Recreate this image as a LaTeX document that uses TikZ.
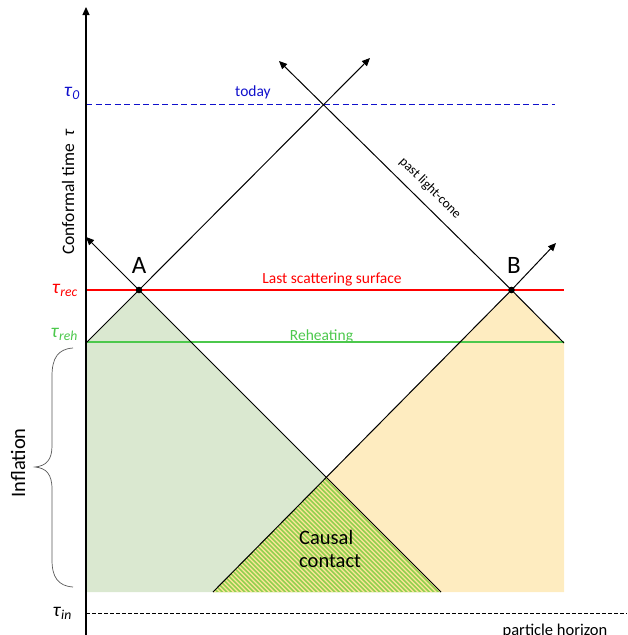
\documentclass[tikz,border=0pt]{standalone}
\usepackage{fontspec}
\setmainfont{Carlito}
\usetikzlibrary{arrows.meta}
\definecolor{regA}{HTML}{DAE8D0}
\definecolor{regB}{HTML}{FEECC0}
\definecolor{hatchG}{HTML}{92D050}
\definecolor{hatchY}{HTML}{FFE699}
\definecolor{rehgreen}{HTML}{4CC84C}
\definecolor{todayblue}{HTML}{1010CC}
\newcommand\tauLev[1]{\textit{τ}\textsubscript{\textit{#1}}}

\begin{document}
\begin{tikzpicture}[x=1pt,y=-1pt,every node/.style={inner sep=0pt},
  cone/.style={line width=1pt},
  tip/.style={-{Triangle[length=8pt,width=7pt]}},
  lbl/.style={font=\fontsize{15.5}{18}\selectfont},
  lev/.style={font=\fontsize{19.5}{22}\selectfont,anchor=east},
  ev/.style={font=\fontsize{25}{30}\selectfont}]
\useasboundingbox (0,0) rectangle (627,635);
% events and ends of the light cones
\coordinate (A) at (139,290);
\coordinate (B) at (511.5,290);
\coordinate (rehL) at (86,343);
\coordinate (rehR) at (564,343);
\coordinate (botL) at (213,592);
\coordinate (botR) at (441,592);
\coordinate (endA) at (86,237);
\coordinate (endB) at (556,243);
\coordinate (endL) at (279,61);
\coordinate (endR) at (370,58);
\coordinate (obs) at (intersection of A--endR and B--endL);
\coordinate (C) at (intersection of A--botR and B--botL);

% shaded regions
\fill[regA] (rehL) -- (A) -- (botR) -- (86,592) -- cycle;
\fill[regB] (botL) -- (B) -- (rehR) -- (564,592) -- cycle;
\begin{scope}
\clip (botL) -- (C) -- (botR) -- cycle;
\fill[hatchG] (botL) -- (C) -- (botR) -- cycle;
\foreach \k in {0,4.5,...,250}
  \draw[hatchY,line width=1.4pt] (\k+80,470) -- (\k+210,600);
\end{scope}

% time levels
\draw[todayblue,dash pattern=on 6pt off 3.5pt,line width=1pt] (86,104) -- (555,104);
\draw[red,line width=1.2pt] (86,290) -- (564,290);
\draw[rehgreen,line width=1.5pt] (86,342) -- (564,342);
\draw[dash pattern=on 3.5pt off 2.5pt,line width=0.8pt] (86,613) -- (627,613);
\draw[line width=1.2pt,tip] (86,635) -- (86,7);

% light cones
\draw[cone,tip] (rehL) -- (A) -- (obs) -- (endR);
\draw[cone,tip] (botR) -- (A) -- (endA);
\draw[cone,tip] (rehR) -- (B) -- (obs) -- (endL);
\draw[cone,tip] (botL) -- (B) -- (endB);
\fill (A) circle (3.3pt);
\fill (B) circle (3.3pt);

% labels
\node[todayblue,lev] (tau0) at (80,93) {\tauLev{0}};
\node[red,lev] (tauRec) at (78,290) {\tauLev{rec}};
\node[rehgreen,lev] (tauReh) at (78,334) {\tauLev{reh}};
\node[lev] (tauIn) at (72,613) {\tauLev{in}};
\node[ev,anchor=base] (labA) at (139,273) {A};
\node[ev,anchor=base] (labB) at (514,273) {B};
\node[todayblue,lbl,anchor=base] (today) at (253,96.5) {today};
\node[red,lbl,anchor=base] (lss) at (332,283) {Last scattering surface};
\node[rehgreen,lbl,anchor=base] (reh) at (321.5,340.5) {Reheating};
\node[font=\fontsize{13.5}{16}\selectfont,rotate=-44.5] (plc) at (430,188) {past light-cone};
\node[font=\fontsize{20.5}{23}\selectfont,align=left,anchor=base west] (causal) at (299,567) {Causal\\contact};
\node[font=\fontsize{17.5}{20}\selectfont,rotate=90,anchor=base west] (ctime) at (74,255) {Conformal time\ \ \textit{τ}};
\node[font=\fontsize{20.5}{24}\selectfont,rotate=90,anchor=base] (infl) at (25,463) {Inflation};
\node[font=\fontsize{16.5}{19}\selectfont,anchor=base] (ph) at (555,635) {particle horizon};

% inflation brace
\draw[gray!70!black,line width=0.7pt] (73,348) .. controls (58,349) and (52,358) .. (52,376)
  -- (52,446) .. controls (52,460) and (46,466) .. (35,467)
  .. controls (46,468) and (52,474) .. (52,489)
  -- (52,560) .. controls (52,577) and (58,586) .. (73,587);
\end{tikzpicture}
\end{document}
